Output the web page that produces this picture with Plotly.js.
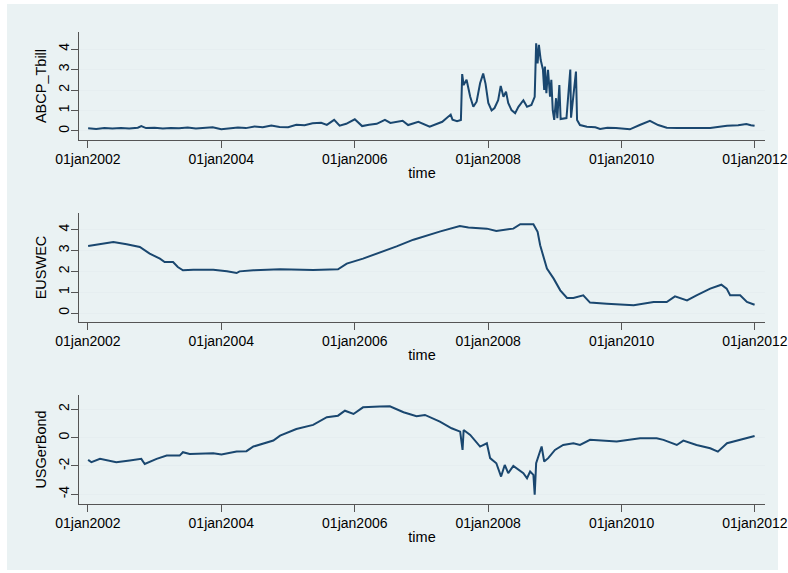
<!DOCTYPE html>
<html>
<head>
<meta charset="utf-8">
<script src="https://cdn.plot.ly/plotly-3.0.1.min.js"></script>
<style>html,body{margin:0;padding:0;background:#fff;}#chart{width:788px;height:573px;}</style>
</head>
<body>
<div id="chart"></div>
<script>
// ---------- data ----------
const abcpDates = ["2002-01-02","2002-02-15","2002-04-01","2002-05-15","2002-07-01","2002-08-15","2002-10-01","2002-10-20","2002-11-15",
"2003-01-01","2003-02-15","2003-04-01","2003-05-15","2003-07-01","2003-08-15","2003-10-01","2003-11-15",
"2004-01-01","2004-02-15","2004-04-01","2004-05-15","2004-07-01","2004-08-15","2004-10-01","2004-11-15",
"2005-01-01","2005-02-15","2005-04-01","2005-05-15","2005-07-01","2005-08-01","2005-09-10","2005-10-10","2005-11-15",
"2006-01-01","2006-02-10","2006-03-20","2006-05-01","2006-06-15","2006-07-15","2006-09-20","2006-10-20","2006-12-15",
"2007-02-15","2007-04-25","2007-06-10","2007-06-20","2007-07-15","2007-08-05","2007-08-12","2007-08-20","2007-09-05","2007-09-25","2007-10-12","2007-10-30","2007-11-18","2007-12-05","2007-12-18",
"2008-01-02","2008-01-20","2008-02-05","2008-02-25","2008-03-10","2008-03-25","2008-04-08","2008-04-20","2008-05-08","2008-05-28","2008-06-15","2008-07-12","2008-08-01","2008-08-25","2008-09-12","2008-09-20","2008-09-28","2008-10-05","2008-10-15","2008-10-27","2008-11-03","2008-11-07","2008-11-15","2008-11-24","2008-12-05","2008-12-12","2008-12-20","2008-12-28",
"2009-01-07","2009-01-14","2009-01-25","2009-02-01","2009-03-05","2009-03-26","2009-03-30","2009-04-26","2009-05-02","2009-05-18","2009-06-25","2009-08-10","2009-09-05","2009-10-15","2009-12-01",
"2010-02-15","2010-04-10","2010-06-05","2010-07-20","2010-09-05","2010-11-01",
"2011-01-01","2011-03-01","2011-05-01","2011-07-01","2011-08-01","2011-10-01","2011-11-15","2011-12-10","2011-12-30"];
const abcpValues = [0.13,0.10,0.15,0.12,0.14,0.12,0.16,0.24,0.14,
0.16,0.12,0.15,0.13,0.17,0.12,0.15,0.18,
0.09,0.12,0.17,0.14,0.22,0.18,0.27,0.20,
0.18,0.30,0.28,0.38,0.40,0.30,0.54,0.26,0.35,
0.57,0.24,0.30,0.35,0.54,0.39,0.50,0.29,0.45,
0.21,0.45,0.80,0.55,0.48,0.54,2.78,2.24,2.50,1.67,1.18,1.43,2.33,2.80,2.30,
1.37,1.00,1.12,1.50,2.20,1.67,1.92,1.37,1.02,0.87,1.18,1.50,1.18,1.27,1.67,4.28,3.30,4.20,3.46,3.00,2.00,3.14,1.85,2.98,1.67,2.50,1.00,0.54,
1.60,0.63,2.24,0.58,0.63,3.00,0.65,2.90,0.54,0.29,0.21,0.18,0.10,0.16,0.14,
0.08,0.29,0.49,0.29,0.16,0.15,
0.14,0.16,0.15,0.22,0.26,0.28,0.34,0.28,0.25];

const euswecDates = ["2002-01-02","2002-03-05","2002-05-20","2002-08-01","2002-10-12","2002-12-05",
"2003-01-30","2003-02-25","2003-04-12","2003-05-08","2003-06-05","2003-08-01","2003-11-18",
"2004-02-01","2004-03-25","2004-04-10","2004-06-25","2004-11-18","2005-05-18","2005-10-01","2005-11-18",
"2006-02-15","2006-05-18","2006-08-18","2006-11-18","2007-01-20","2007-04-15","2007-07-30","2007-09-15","2007-12-25",
"2008-02-15","2008-05-18","2008-06-25","2008-09-05","2008-09-28","2008-10-12","2008-11-18","2008-12-25",
"2009-01-30","2009-03-08","2009-04-12","2009-06-05","2009-07-12","2009-10-12",
"2010-03-08","2010-06-25","2010-09-05","2010-10-20","2010-12-25",
"2011-02-15","2011-05-01","2011-07-01","2011-07-30","2011-08-18","2011-10-12","2011-11-18","2011-12-30"];
const euswecValues = [3.22,3.30,3.41,3.30,3.17,2.85,
2.61,2.45,2.45,2.21,2.05,2.08,2.08,
2.00,1.92,2.00,2.05,2.10,2.07,2.10,2.37,
2.61,2.90,3.20,3.52,3.70,3.92,4.18,4.10,4.05,
3.94,4.05,4.26,4.26,3.90,3.25,2.13,1.65,
1.09,0.72,0.72,0.85,0.50,0.45,
0.37,0.53,0.53,0.80,0.61,
0.85,1.17,1.36,1.17,0.85,0.85,0.53,0.40];

const usgerDates = ["2002-01-02","2002-01-20","2002-03-08","2002-06-05","2002-08-18","2002-10-20","2002-11-08",
"2003-01-12","2003-03-08","2003-05-18","2003-06-05","2003-07-12","2003-11-18",
"2004-01-02","2004-03-25","2004-05-18","2004-06-25","2004-10-12","2004-11-18",
"2005-02-15","2005-05-18","2005-08-01","2005-10-01","2005-11-08","2005-12-25",
"2006-02-15","2006-05-18","2006-07-12","2006-09-25","2006-12-05",
"2007-01-20","2007-04-12","2007-06-15","2007-08-01","2007-08-14","2007-08-20","2007-09-25","2007-11-18","2007-12-25",
"2008-01-12","2008-02-15","2008-03-12","2008-04-01","2008-04-20","2008-05-18","2008-07-12","2008-08-01","2008-08-18","2008-09-05","2008-09-12","2008-09-20","2008-10-20","2008-11-03","2008-11-25",
"2009-01-01","2009-02-15","2009-04-12","2009-05-18","2009-07-12","2009-10-12","2009-12-05",
"2010-04-12","2010-07-12","2010-08-18","2010-10-30","2010-12-05",
"2011-02-15","2011-05-01","2011-06-12","2011-08-01","2011-10-12","2011-12-30"];
const usgerValues = [-1.57,-1.74,-1.50,-1.74,-1.62,-1.50,-1.86,
-1.50,-1.27,-1.27,-1.03,-1.15,-1.10,
-1.20,-0.99,-0.96,-0.63,-0.21,0.14,
0.61,0.90,1.44,1.55,1.90,1.67,
2.14,2.19,2.21,1.79,1.51,
1.60,1.13,0.66,0.42,-0.87,0.54,0.19,-0.63,-0.40,
-1.45,-1.81,-2.75,-1.93,-2.51,-2.00,-2.51,-2.87,-2.40,-2.63,-4.04,-1.81,-0.63,-1.69,-1.45,
-0.87,-0.52,-0.40,-0.52,-0.16,-0.21,-0.28,
-0.05,-0.05,-0.16,-0.52,-0.21,
-0.52,-0.75,-0.99,-0.40,-0.16,0.12];

const xTickVals = ["2002-01-01","2004-01-01","2006-01-01","2008-01-01","2010-01-01","2012-01-01"];
const xTickText = ["01jan2002","01jan2004","01jan2006","01jan2008","01jan2010","01jan2012"];
const y1Ticks = [0,1,2,3,4];
const y2Ticks = [0,1,2,3,4];
const y3Ticks = [-4,-2,0,2];
const y3TickText = ["-4","-2","0","2"];

// ---------- styling ----------
const W = 788, H = 573;
const lineColor = "#1a476f";
const fam = "Liberation Sans, Arial, sans-serif";
const tickFont = {family: fam, size: 14, color: "#000"};
const titleFont = {family: fam, size: 14.5, color: "#000"};
const xRange = ["2001-11-13", "2012-02-25"];

function xAxis(anchor) {
  return {
    anchor: anchor, domain: [79/W, 765/W], type: "date", range: xRange,
    tickmode: "array", tickvals: xTickVals, ticktext: xTickText,
    ticks: "outside", ticklen: 7, tickwidth: 1, tickcolor: "#555",
    showline: true, linecolor: "#555", linewidth: 1,
    showgrid: false, zeroline: false,
    tickfont: tickFont, ticklabelstandoff: -1,
    title: {text: "time", font: titleFont, standoff: 2},
    automargin: false, fixedrange: true
  };
}
function yAxis(anchor, top, bottom, range, vals, text, title) {
  return {
    anchor: anchor, domain: [1 - bottom/H, 1 - top/H], range: range,
    tickmode: "array", tickvals: vals, ticktext: text,
    tickangle: -90,
    ticks: "outside", ticklen: 7, tickwidth: 1, tickcolor: "#555",
    showline: true, linecolor: "#555", linewidth: 1,
    showgrid: true, gridcolor: "#e6eef0", gridwidth: 1,
    zeroline: false,
    tickfont: tickFont, ticklabelstandoff: -4,
    title: {text: title, font: titleFont, standoff: 6},
    automargin: false, fixedrange: true
  };
}

const traces = [
  {x: abcpDates, y: abcpValues, xaxis: "x", yaxis: "y", type: "scatter", mode: "lines",
   line: {color: lineColor, width: 2}, hoverinfo: "skip"},
  {x: euswecDates, y: euswecValues, xaxis: "x2", yaxis: "y2", type: "scatter", mode: "lines",
   line: {color: lineColor, width: 2}, hoverinfo: "skip"},
  {x: usgerDates, y: usgerValues, xaxis: "x3", yaxis: "y3", type: "scatter", mode: "lines",
   line: {color: lineColor, width: 2}, hoverinfo: "skip"}
];

const layout = {
  width: W, height: H,
  margin: {l: 0, r: 0, t: 0, b: 0, pad: 0},
  paper_bgcolor: "#ffffff",
  plot_bgcolor: "#ffffff",
  showlegend: false,
  font: tickFont,
  xaxis: xAxis("y"),
  xaxis2: xAxis("y2"),
  xaxis3: xAxis("y3"),
  yaxis: yAxis("x", 32, 140, [-0.44, 4.83], y1Ticks, y1Ticks.map(String), "ABCP_Tbill"),
  yaxis2: yAxis("x2", 213, 322, [-0.43, 4.8], y2Ticks, y2Ticks.map(String), "EUSWEC"),
  yaxis3: yAxis("x3", 395, 504, [-4.69, 3.01], y3Ticks, y3TickText, "USGerBond"),
  shapes: [{
    type: "rect", xref: "paper", yref: "paper", layer: "below",
    x0: 7/W, x1: 778/W, y0: 1 - 570/H, y1: 1 - 4/H,
    fillcolor: "#eaf2f3", line: {width: 0}
  }]
};

Plotly.newPlot("chart", traces, layout, {displayModeBar: false, staticPlot: true});
</script>
</body>
</html>
